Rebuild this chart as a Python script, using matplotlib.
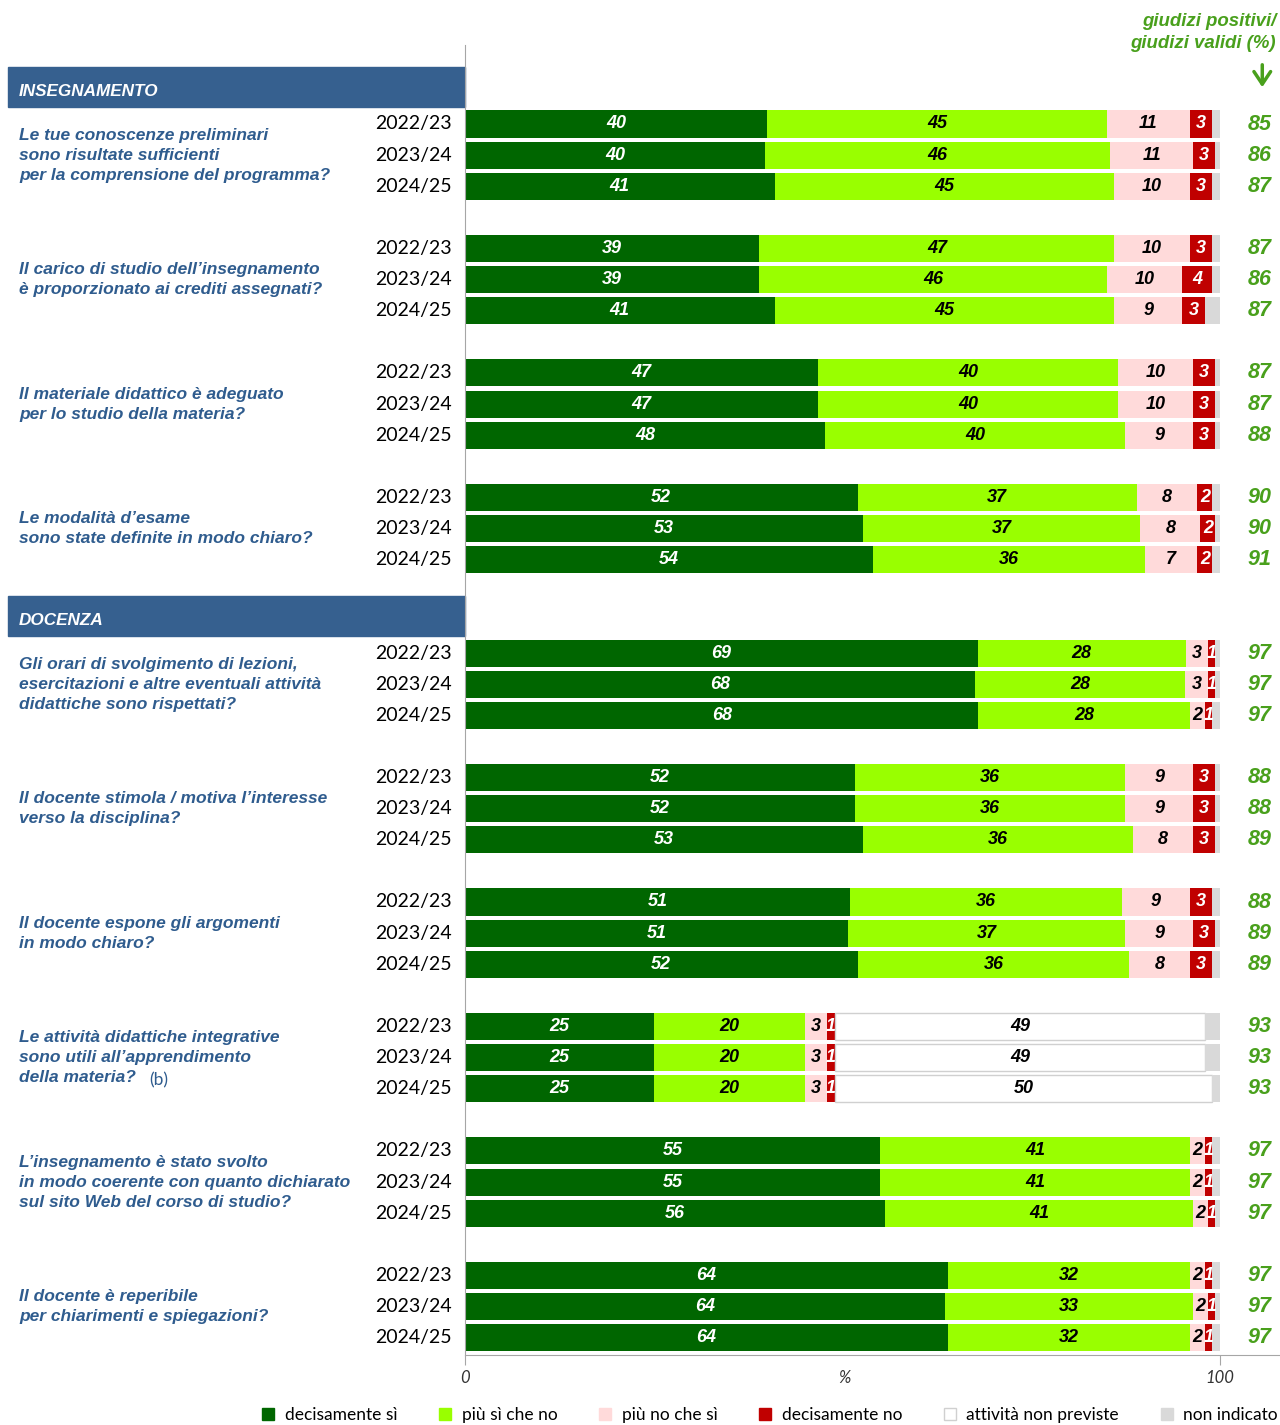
import matplotlib
matplotlib.use("Agg")
import matplotlib.pyplot as plt
import matplotlib.transforms as mtransforms
from matplotlib.patches import Rectangle, Patch

plt.rcParams['font.family'] = ['Lato', 'DejaVu Sans']
BOLD = ['Liberation Sans', 'DejaVu Sans']

years = ["2022/23", "2023/24", "2024/25"]

questions = [
    "Le tue conoscenze preliminari\nsono risultate sufficienti\nper la comprensione del programma?",
    "Il carico di studio dell\u2019insegnamento\nè proporzionato ai crediti assegnati?",
    "Il materiale didattico è adeguato\nper lo studio della materia?",
    "Le modalità d\u2019esame\nsono state definite in modo chiaro?",
    "Gli orari di svolgimento di lezioni,\nesercitazioni e altre eventuali attività\ndidattiche sono rispettati?",
    "Il docente stimola / motiva l\u2019interesse\nverso la disciplina?",
    "Il docente espone gli argomenti\nin modo chiaro?",
    "Le attività didattiche integrative\nsono utili all\u2019apprendimento\ndella materia?",
    "L\u2019insegnamento è stato svolto\nin modo coerente con quanto dichiarato\nsul sito Web del corso di studio?",
    "Il docente è reperibile\nper chiarimenti e spiegazioni?",
]
sections = {0: "INSEGNAMENTO", 4: "DOCENZA"}

# per question, per year
dec_si = [[40, 40, 41], [39, 39, 41], [47, 47, 48], [52, 53, 54], [69, 68, 68],
          [52, 52, 53], [51, 51, 52], [25, 25, 25], [55, 55, 56], [64, 64, 64]]
piu_si = [[45, 46, 45], [47, 46, 45], [40, 40, 40], [37, 37, 36], [28, 28, 28],
          [36, 36, 36], [36, 37, 36], [20, 20, 20], [41, 41, 41], [32, 33, 32]]
piu_no = [[11, 11, 10], [10, 10, 9], [10, 10, 9], [8, 8, 7], [3, 3, 2],
          [9, 9, 8], [9, 9, 8], [3, 3, 3], [2, 2, 2], [2, 2, 2]]
dec_no = [[3, 3, 3], [3, 4, 3], [3, 3, 3], [2, 2, 2], [1, 1, 1],
          [3, 3, 3], [3, 3, 3], [1, 1, 1], [1, 1, 1], [1, 1, 1]]
non_previste = [[0, 0, 0], [0, 0, 0], [0, 0, 0], [0, 0, 0], [0, 0, 0],
                [0, 0, 0], [0, 0, 0], [49, 49, 50], [0, 0, 0], [0, 0, 0]]
positivi = [[85, 86, 87], [87, 86, 87], [87, 87, 88], [90, 90, 91], [97, 97, 97],
            [88, 88, 89], [88, 89, 89], [93, 93, 93], [97, 97, 97], [97, 97, 97]]

legend_labels = ["decisamente sì", "più sì che no", "più no che sì",
                 "decisamente no", "attività non previste", "non indicato"]
colors = ["#006600", "#99FF00", "#FFDADA", "#C00000", "#FFFFFF", "#D9D9D9"]
label_colors = ["white", "black", "black", "white", "black", None]

blue = "#36608F"
qblue = "#2F5C8E"
green = "#49A01C"

fig = plt.figure(figsize=(12.8, 14.25), dpi=100)
ax = fig.add_axes([465 / 1280, 1 - 1355 / 1425, 1 - 465 / 1280, (1355 - 45) / 1425])
ax.set_xlim(0, (1280 - 465) / 7.55)
ax.set_ylim((1355 - 124) / 31.12, (45 - 124) / 31.12)

tr = mtransforms.blended_transform_factory(fig.transFigure, ax.transData)
bi = dict(family=BOLD, fontweight="bold", fontstyle="italic")

bar_h = 0.87
line_step = 20 / 31.12
for g in range(len(questions)):
    base = 4 * g + (1 if g >= 4 else 0)
    if g in sections:
        ax.add_patch(Rectangle((8 / 1280, base - 1.83), (465 - 8) / 1280, 1.29,
                               transform=tr, color=blue, clip_on=False))
        ax.text(19 / 1280, base - 1.05, sections[g], transform=tr, color="white",
                fontsize=12.3, va="center", **bi)
    lines = questions[g].split("\n")
    n = len(lines)
    for i, ln in enumerate(lines):
        yl = base + 1 + (i - (n - 1) / 2) * line_step
        ax.text(19 / 1280, yl, ln, transform=tr, color=qblue,
                fontsize=12.5, va="center", **bi)
    if g == 7:
        ax.text(149 / 1280, yl + 0.1, "(b)", transform=tr, color=qblue,
                fontsize=12.5, va="center")
    for s in range(3):
        y = base + s
        vals = [dec_si[g][s], piu_si[g][s], piu_no[g][s], dec_no[g][s], non_previste[g][s]]
        tot = sum(vals)
        k = min(1.0, 99.4 / tot)
        widths = [v * k for v in vals]
        widths.append(max(0.0, 100 - sum(widths)))
        left = 0
        for i, w in enumerate(widths):
            if w <= 0:
                continue
            ec = "#D0D0D0" if i == 4 else "none"
            ax.barh(y, w, left=left, height=bar_h, color=colors[i], edgecolor=ec,
                    linewidth=1)
            if i < 5:
                ax.text(left + w / 2, y, str(vals[i]), ha="center", va="center",
                        color=label_colors[i], fontsize=13, **bi)
            left += w
        ax.text(-1.7, y, years[s], ha="right", va="center", fontsize=14,
                color="black", clip_on=False)
        ax.text(105.2, y, str(positivi[g][s]), ha="center", va="center",
                fontsize=15.5, color=green, **bi)

# header of right column
ax.text(107.4, (22 - 124) / 31.12, "giudizi positivi/", ha="right", va="center",
        fontsize=13.4, color=green, **bi)
ax.text(107.4, (43 - 124) / 31.12, "giudizi validi (%)", ha="right", va="center",
        fontsize=13.4, color=green, **bi)
ax.annotate("", xy=(105.6, (90 - 124) / 31.12), xytext=(105.6, (62 - 124) / 31.12),
            arrowprops=dict(arrowstyle="->,head_length=0.9,head_width=0.6",
                            color=green, lw=2.5), annotation_clip=False)

for sp in ["top", "right"]:
    ax.spines[sp].set_visible(False)
ax.spines["left"].set_color("#A6A6A6")
ax.spines["bottom"].set_color("#A6A6A6")
ax.set_yticks([])
ax.set_xticks([0, 100])
ax.set_xticklabels([])
ax.tick_params(axis="x", length=7, color="#A6A6A6")

yb = (1378 - 124) / 31.12
for x, t in [(0, "0"), (50.3, "%"), (100, "100")]:
    ax.text(x, yb, t, ha="center", va="center", fontsize=12, fontstyle="italic",
            color="#333333", clip_on=False)

handles = [Patch(facecolor=c, edgecolor=("#D0D0D0" if c == "#FFFFFF" else c))
           for c in colors]
fig.legend(handles, legend_labels, loc="center", ncol=6,
           bbox_to_anchor=(770 / 1280, 1 - 1415 / 1425), frameon=False,
           fontsize=12.5, handlelength=0.7, handleheight=0.7, handletextpad=0.6,
           columnspacing=2.4)

fig.savefig("out.png", dpi=100)
